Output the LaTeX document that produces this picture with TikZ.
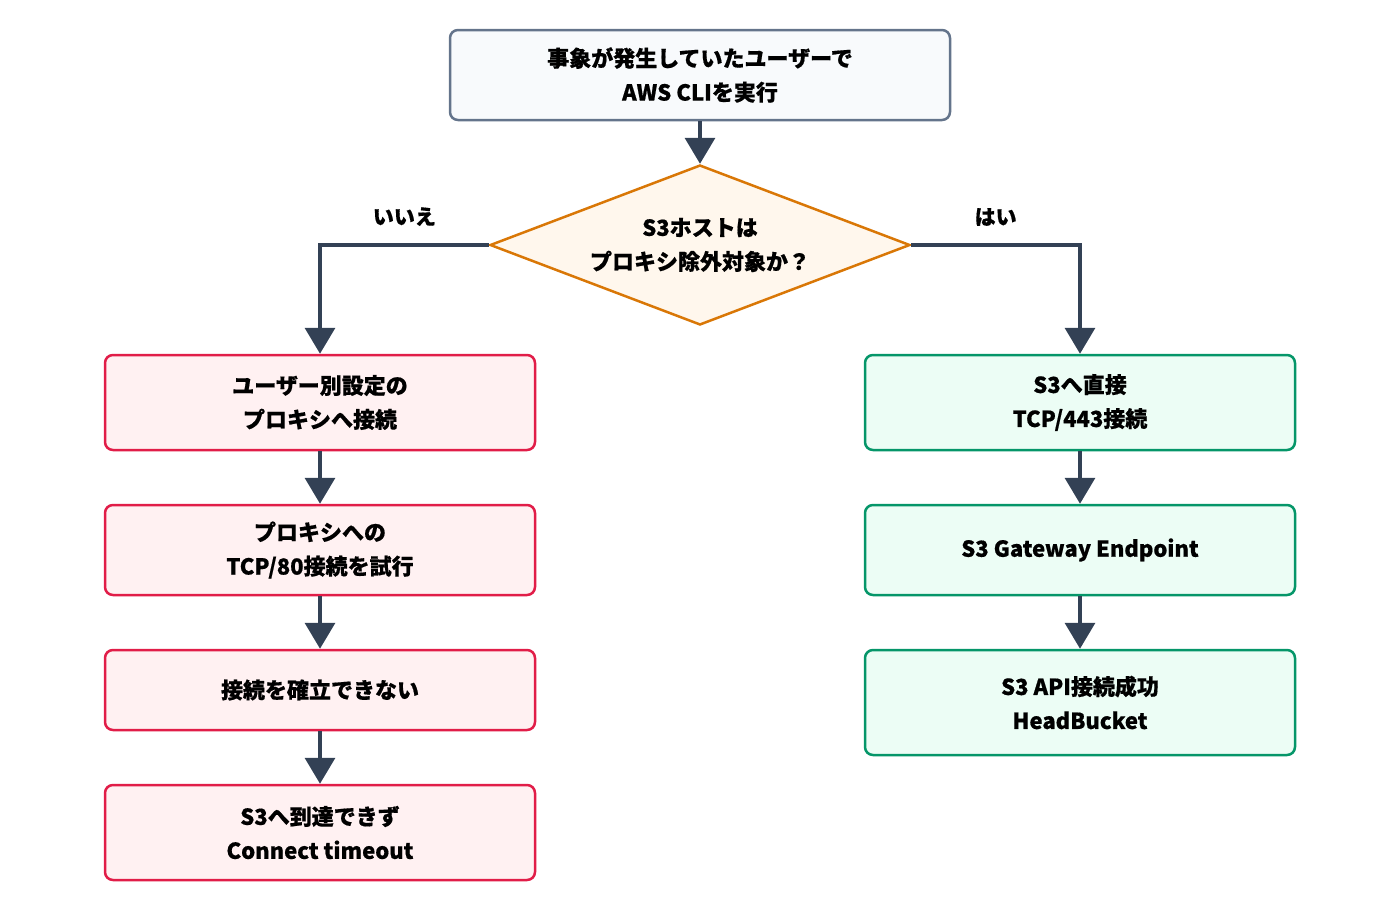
\documentclass[tikz,border=0pt]{standalone}
\usepackage{fontspec}
\setmainfont{Noto Sans CJK JP}[FakeBold=0.6]
\usetikzlibrary{shapes.geometric,arrows.meta,positioning}
\definecolor{slateln}{HTML}{64748B}
\definecolor{slatebg}{HTML}{F8FAFC}
\definecolor{orgln}{HTML}{D97706}
\definecolor{orgbg}{HTML}{FFF7ED}
\definecolor{redln}{HTML}{E11D48}
\definecolor{redbg}{HTML}{FFF1F2}
\definecolor{grnln}{HTML}{059669}
\definecolor{grnbg}{HTML}{ECFDF5}
\definecolor{arrln}{HTML}{334155}
\tikzset{every picture/.style={line width=2.5pt}}
\tikzset{
  box/.style={rectangle, rounded corners=8pt, minimum width=430pt, align=center, font=\fontsize{22}{34}\selectfont\bfseries, text=black},
  startbox/.style={box, draw=slateln, fill=slatebg, minimum width=500pt, minimum height=90pt},
  ngbox/.style={box, draw=redln, fill=redbg},
  okbox/.style={box, draw=grnln, fill=grnbg},
  flow/.style={draw=arrln, line width=3.5pt, -{Triangle[length=26pt,width=30pt]}},
  lbl/.style={font=\fontsize{21}{24}\selectfont\bfseries}
}
\begin{document}
\begin{tikzpicture}[x=1pt,y=-1pt]
  \useasboundingbox (0,0) rectangle (1400,900);
  \node[startbox] (start) at (700,75) {事象が発生していたユーザーで\\AWS CLIを実行};
  \node[diamond, draw=orgln, fill=orgbg, minimum width=420pt, minimum height=160pt, aspect=2.625, inner sep=0pt, align=center, font=\fontsize{22}{34}\selectfont\bfseries] (check) at (700,245) {S3ホストは\\プロキシ除外対象か？};
  % left branch
  \node[ngbox, minimum height=95pt] (ng1) at (320,402.5) {ユーザー別設定の\\プロキシへ接続};
  \node[ngbox, minimum height=90pt] (ng2) at (320,550) {プロキシへの\\TCP/80接続を試行};
  \node[ngbox, minimum height=80pt] (ng3) at (320,690) {接続を確立できない};
  \node[ngbox, minimum height=95pt] (ng4) at (320,832.5) {S3へ到達できず\\Connect timeout};
  % right branch
  \node[okbox, minimum height=95pt] (ok1) at (1080,402.5) {S3へ直接\\TCP/443接続};
  \node[okbox, minimum height=90pt] (ok2) at (1080,550) {S3 Gateway Endpoint};
  \node[okbox, minimum height=105pt] (ok3) at (1080,702.5) {S3 API接続成功\\HeadBucket};
  \draw[flow] (start) -- (check);
  \draw[flow] (check.west) -| (ng1.north) node[lbl, pos=0.25, above=14pt] {いいえ};
  \draw[flow] (check.east) -| (ok1.north) node[lbl, pos=0.25, above=14pt] {はい};
  \draw[flow] (ng1) -- (ng2);
  \draw[flow] (ng2) -- (ng3);
  \draw[flow] (ng3) -- (ng4);
  \draw[flow] (ok1) -- (ok2);
  \draw[flow] (ok2) -- (ok3);
\end{tikzpicture}
\end{document}
